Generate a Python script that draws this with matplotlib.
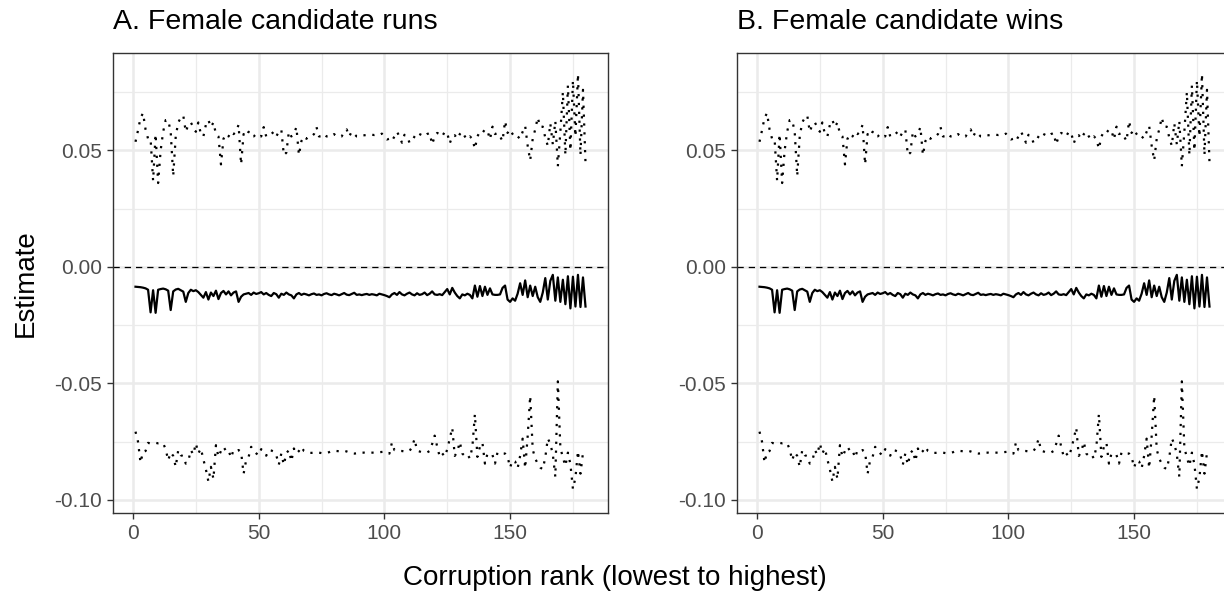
import numpy as np
import matplotlib.pyplot as plt
from matplotlib.ticker import MultipleLocator

plt.rcParams['font.family'] = ['Liberation Sans', 'DejaVu Sans']

# corruption rank 1..180
rank = np.arange(1, 181)

# point estimate
est = [
    -0.0085, -0.0086, -0.0087, -0.0089, -0.0092, -0.0098, -0.0195, -0.0100, -0.0197, -0.0098,
    -0.0095, -0.0093, -0.0096, -0.0102, -0.0185, -0.0105, -0.0097, -0.0094, -0.0100, -0.0106,
    -0.0150, -0.0112, -0.0098, -0.0104, -0.0100, -0.0108, -0.0120, -0.0132, -0.0108, -0.0140,
    -0.0110, -0.0125, -0.0102, -0.0138, -0.0112, -0.0103, -0.0118, -0.0105, -0.0122, -0.0110,
    -0.0105, -0.0150, -0.0128, -0.0118, -0.0115, -0.0112, -0.0120, -0.0110, -0.0116, -0.0113,
    -0.0108, -0.0118, -0.0112, -0.0120, -0.0125, -0.0112, -0.0117, -0.0132, -0.0115, -0.0120,
    -0.0110, -0.0118, -0.0122, -0.0135, -0.0118, -0.0112, -0.0120, -0.0115, -0.0118, -0.0122,
    -0.0117, -0.0114, -0.0120, -0.0118, -0.0122, -0.0116, -0.0113, -0.0118, -0.0121, -0.0115,
    -0.0118, -0.0122, -0.0117, -0.0112, -0.0119, -0.0121, -0.0116, -0.0111, -0.0120, -0.0118,
    -0.0121, -0.0118, -0.0116, -0.0120, -0.0117, -0.0119, -0.0122, -0.0115, -0.0118, -0.0121,
    -0.0125, -0.0130, -0.0118, -0.0112, -0.0120, -0.0108, -0.0118, -0.0122, -0.0115, -0.0110,
    -0.0118, -0.0122, -0.0113, -0.0120, -0.0117, -0.0110, -0.0121, -0.0115, -0.0105, -0.0118,
    -0.0120, -0.0117, -0.0121, -0.0108, -0.0095, -0.0118, -0.0090, -0.0110, -0.0125, -0.0135,
    -0.0118, -0.0122, -0.0115, -0.0120, -0.0135, -0.0080, -0.0128, -0.0082, -0.0125, -0.0085,
    -0.0120, -0.0092, -0.0118, -0.0120, -0.0120, -0.0118, -0.0090, -0.0080, -0.0140, -0.0150,
    -0.0135, -0.0145, -0.0115, -0.0070, -0.0120, -0.0058, -0.0130, -0.0080, -0.0125, -0.0085,
    -0.0130, -0.0150, -0.0110, -0.0048, -0.0140, -0.0060, -0.0034, -0.0145, -0.0045, -0.0150,
    -0.0055, -0.0160, -0.0040, -0.0178, -0.0042, -0.0170, -0.0034, -0.0172, -0.0045, -0.0170,
]

# upper confidence bound
upper = [
    0.0537, 0.0586, 0.0640, 0.0660, 0.0590, 0.0550, 0.0550, 0.0370, 0.0570, 0.0360,
    0.0500, 0.0580, 0.0630, 0.0630, 0.0580, 0.0390, 0.0560, 0.0620, 0.0640, 0.0650,
    0.0580, 0.0610, 0.0620, 0.0600, 0.0580, 0.0620, 0.0570, 0.0560, 0.0610, 0.0630,
    0.0600, 0.0620, 0.0570, 0.0560, 0.0440, 0.0550, 0.0570, 0.0560, 0.0580, 0.0570,
    0.0580, 0.0610, 0.0440, 0.0570, 0.0560, 0.0580, 0.0560, 0.0560, 0.0570, 0.0560,
    0.0560, 0.0600, 0.0560, 0.0560, 0.0570, 0.0580, 0.0560, 0.0580, 0.0590, 0.0480,
    0.0490, 0.0580, 0.0560, 0.0570, 0.0600, 0.0480, 0.0540, 0.0560, 0.0550, 0.0560,
    0.0560, 0.0570, 0.0600, 0.0560, 0.0560, 0.0570, 0.0560, 0.0560, 0.0560, 0.0570,
    0.0560, 0.0560, 0.0560, 0.0580, 0.0590, 0.0560, 0.0580, 0.0570, 0.0560, 0.0560,
    0.0565, 0.0565, 0.0566, 0.0566, 0.0567, 0.0566, 0.0568, 0.0566, 0.0572, 0.0555,
    0.0547, 0.0550, 0.0540, 0.0560, 0.0580, 0.0560, 0.0533, 0.0567, 0.0560, 0.0533,
    0.0540, 0.0560, 0.0576, 0.0570, 0.0565, 0.0560, 0.0570, 0.0575, 0.0526, 0.0560,
    0.0575, 0.0570, 0.0560, 0.0580, 0.0575, 0.0530, 0.0560, 0.0565, 0.0550, 0.0570,
    0.0580, 0.0560, 0.0547, 0.0560, 0.0550, 0.0507, 0.0560, 0.0580, 0.0575, 0.0590,
    0.0585, 0.0547, 0.0602, 0.0570, 0.0575, 0.0560, 0.0540, 0.0626, 0.0575, 0.0590,
    0.0570, 0.0555, 0.0560, 0.0550, 0.0580, 0.0605, 0.0520, 0.0457, 0.0550, 0.0590,
    0.0641, 0.0600, 0.0602, 0.0555, 0.0520, 0.0616, 0.0526, 0.0626, 0.0432, 0.0580,
    0.0750, 0.0480, 0.0778, 0.0500, 0.0800, 0.0560, 0.0828, 0.0480, 0.0760, 0.0447,
]

# lower confidence bound
lower = [
    -0.0707, -0.0750, -0.0840, -0.0793, -0.0790, -0.0755, -0.0758, -0.0756, -0.0755, -0.0757,
    -0.0756, -0.0757, -0.0782, -0.0830, -0.0796, -0.0811, -0.0858, -0.0786, -0.0808, -0.0812,
    -0.0844, -0.0834, -0.0786, -0.0805, -0.0757, -0.0800, -0.0779, -0.0826, -0.0869, -0.0921,
    -0.0858, -0.0910, -0.0765, -0.0815, -0.0790, -0.0772, -0.0790, -0.0786, -0.0819, -0.0786,
    -0.0790, -0.0786, -0.0794, -0.0888, -0.0830, -0.0815, -0.0772, -0.0790, -0.0800, -0.0808,
    -0.0782, -0.0795, -0.0810, -0.0786, -0.0788, -0.0792, -0.0808, -0.0849, -0.0801, -0.0849,
    -0.0800, -0.0786, -0.0834, -0.0779, -0.0801, -0.0790, -0.0772, -0.0790, -0.0795, -0.0798,
    -0.0798, -0.0797, -0.0798, -0.0797, -0.0799, -0.0800, -0.0798, -0.0795, -0.0790, -0.0789,
    -0.0790, -0.0791, -0.0790, -0.0789, -0.0792, -0.0796, -0.0800, -0.0801, -0.0800, -0.0801,
    -0.0797, -0.0797, -0.0798, -0.0797, -0.0797, -0.0797, -0.0796, -0.0795, -0.0794, -0.0793,
    -0.0795, -0.0801, -0.0754, -0.0786, -0.0788, -0.0790, -0.0790, -0.0792, -0.0791, -0.0790,
    -0.0773, -0.0738, -0.0789, -0.0792, -0.0796, -0.0795, -0.0796, -0.0790, -0.0760, -0.0724,
    -0.0771, -0.0814, -0.0800, -0.0814, -0.0783, -0.0737, -0.0690, -0.0811, -0.0793, -0.0751,
    -0.0801, -0.0811, -0.0804, -0.0822, -0.0773, -0.0632, -0.0815, -0.0772, -0.0754, -0.0844,
    -0.0801, -0.0801, -0.0807, -0.0844, -0.0796, -0.0798, -0.0800, -0.0801, -0.0814, -0.0861,
    -0.0830, -0.0835, -0.0864, -0.0811, -0.0737, -0.0864, -0.0726, -0.0553, -0.0783, -0.0823,
    -0.0844, -0.0861, -0.0868, -0.0818, -0.0736, -0.0759, -0.0804, -0.0901, -0.0491, -0.0776,
    -0.0818, -0.0854, -0.0797, -0.0847, -0.0953, -0.0904, -0.0790, -0.0887, -0.0797, -0.0810,
]

titles = ["A. Female candidate runs", "B. Female candidate wins"]
x_ticks = [0, 50, 100, 150]
y_ticks = [-0.10, -0.05, 0.00, 0.05]
y_ticklabels = ["-0.10", "-0.05", "0.00", "0.05"]

W, H = 1224, 595
fig = plt.figure(figsize=(W / 100, H / 100), dpi=100)

# panel boxes in pixels: left, right, top, bottom
boxes = [(113, 608, 53, 513), (737, 1232, 53, 513)]

for (l, r, t, b), title in zip(boxes, titles):
    ax = fig.add_axes([l / W, 1 - b / H, (r - l) / W, (b - t) / H])
    ax.set_xlim(1 - 0.05 * 179, 180 + 0.05 * 179)
    ax.set_ylim(-0.1056, 0.0918)

    ax.xaxis.set_minor_locator(MultipleLocator(25))
    ax.yaxis.set_minor_locator(MultipleLocator(0.025))
    ax.set_xticks(x_ticks)
    ax.set_yticks(y_ticks)
    ax.set_yticklabels(y_ticklabels)
    ax.grid(which="major", color="#EBEBEB", linewidth=1.8, zorder=0)
    ax.grid(which="minor", color="#EBEBEB", linewidth=0.9, zorder=0)
    ax.set_axisbelow(True)

    ax.tick_params(which="major", length=4, width=1.0, color="#333333",
                   labelcolor="#4D4D4D", labelsize=15, pad=4)
    ax.tick_params(which="minor", length=0)
    for s in ax.spines.values():
        s.set_color("#333333")
        s.set_linewidth(1.0)

    ax.axhline(0, color="black", linewidth=0.9, linestyle=(0, (5, 4)), zorder=1)
    ax.plot(rank, upper, color="black", linewidth=1.6,
            linestyle=(0, (1, 3)), zorder=2)
    ax.plot(rank, lower, color="black", linewidth=1.6,
            linestyle=(0, (1, 3)), zorder=2)
    ax.plot(rank, est, color="black", linewidth=1.6, zorder=3)

    fig.text(l / W, 1 - 22 / H, title, fontsize=20.5, ha="left", va="center")

fig.text(26 / W, 1 - 283 / H, "Estimate", rotation=90, fontsize=20,
         ha="center", va="center")
fig.text(615 / W, 1 - 578 / H, "Corruption rank (lowest to highest)",
         fontsize=20, ha="center", va="center")

fig.savefig("out.png", dpi=100)
